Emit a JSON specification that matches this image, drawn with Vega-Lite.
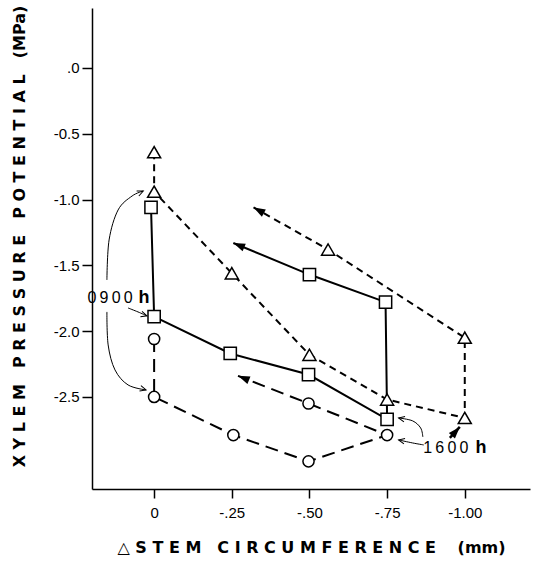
{
  "$schema": "https://vega.github.io/schema/vega-lite/v6.json",
  "width": 438,
  "height": 481,
  "autosize": "none",
  "padding": {"left": 92, "top": 8, "right": 11, "bottom": 72},
  "background": "white",
  "config": {
    "view": {"stroke": null},
    "axis": {
      "grid": false,
      "domainColor": "black",
      "domainWidth": 1.5,
      "tickColor": "black",
      "tickWidth": 1.5,
      "labelColor": "black",
      "titleColor": "black",
      "labelFont": "Liberation Sans",
      "labelFontSize": 15,
      "titleFont": "DejaVu Sans",
      "titleFontWeight": "bold",
      "titleFontSize": 16
    }
  },
  "datasets": {
    "obs": [
      {"series": "tri", "seq": 1, "x": 0, "y": -0.64, "kind": "obs"},
      {"series": "tri", "seq": 2, "x": 0, "y": -0.94, "kind": "obs"},
      {"series": "tri", "seq": 3, "x": -0.25, "y": -1.56, "kind": "obs"},
      {"series": "tri", "seq": 4, "x": -0.5, "y": -2.18, "kind": "obs"},
      {"series": "tri", "seq": 5, "x": -0.75, "y": -2.52, "kind": "obs"},
      {"series": "tri", "seq": 6, "x": -1.0, "y": -2.66, "kind": "obs"},
      {"series": "tri", "seq": 7, "x": -1.0, "y": -2.05, "kind": "obs"},
      {"series": "tri", "seq": 8, "x": -0.56, "y": -1.38, "kind": "obs"},
      {"series": "tri", "seq": 9, "x": -0.32, "y": -1.06, "kind": "tip"},
      {"series": "sq", "seq": 1, "x": 0.01, "y": -1.06, "kind": "obs"},
      {"series": "sq", "seq": 2, "x": 0, "y": -1.89, "kind": "obs"},
      {"series": "sq", "seq": 3, "x": -0.245, "y": -2.17, "kind": "obs"},
      {"series": "sq", "seq": 4, "x": -0.497, "y": -2.33, "kind": "obs"},
      {"series": "sq", "seq": 5, "x": -0.75, "y": -2.67, "kind": "obs"},
      {"series": "sq", "seq": 6, "x": -0.745, "y": -1.78, "kind": "obs"},
      {"series": "sq", "seq": 7, "x": -0.5, "y": -1.57, "kind": "obs"},
      {"series": "sq", "seq": 8, "x": -0.255, "y": -1.33, "kind": "tip"},
      {"series": "cir", "seq": 1, "x": 0, "y": -2.06, "kind": "obs"},
      {"series": "cir", "seq": 2, "x": 0, "y": -2.5, "kind": "obs"},
      {"series": "cir", "seq": 3, "x": -0.255, "y": -2.79, "kind": "obs"},
      {"series": "cir", "seq": 4, "x": -0.497, "y": -2.99, "kind": "obs"},
      {"series": "cir", "seq": 5, "x": -0.75, "y": -2.79, "kind": "obs"},
      {"series": "cir", "seq": 6, "x": -0.497, "y": -2.55, "kind": "obs"},
      {"series": "cir", "seq": 7, "x": -0.27, "y": -2.34, "kind": "tip"}
    ],
    "ann": [
      {"id": "a1", "seq": 1, "x": 0.152, "y": -1.611},
      {"id": "a1", "seq": 2, "x": 0.145, "y": -1.307},
      {"id": "a1", "seq": 3, "x": 0.116, "y": -1.079},
      {"id": "a1", "seq": 4, "x": 0.071, "y": -0.973},
      {"id": "a1", "seq": 5, "x": 0.035, "y": -0.935},
      {"id": "a2", "seq": 1, "x": 0.084, "y": -1.824},
      {"id": "a2", "seq": 2, "x": 0.052, "y": -1.854},
      {"id": "a2", "seq": 3, "x": 0.023, "y": -1.884},
      {"id": "a3", "seq": 1, "x": 0.152, "y": -1.854},
      {"id": "a3", "seq": 2, "x": 0.148, "y": -2.105},
      {"id": "a3", "seq": 3, "x": 0.126, "y": -2.295},
      {"id": "a3", "seq": 4, "x": 0.084, "y": -2.409},
      {"id": "a3", "seq": 5, "x": 0.026, "y": -2.447},
      {"id": "b1", "seq": 1, "x": -0.865, "y": -2.804},
      {"id": "b1", "seq": 2, "x": -0.858, "y": -2.736},
      {"id": "b1", "seq": 3, "x": -0.832, "y": -2.682},
      {"id": "b1", "seq": 4, "x": -0.787, "y": -2.66},
      {"id": "b2", "seq": 1, "x": -0.868, "y": -2.865},
      {"id": "b2", "seq": 2, "x": -0.832, "y": -2.85},
      {"id": "b2", "seq": 3, "x": -0.787, "y": -2.827},
      {"id": "b3", "seq": 1, "x": -0.952, "y": -2.812},
      {"id": "b3", "seq": 2, "x": -0.984, "y": -2.728}
    ],
    "heads": [
      {"id": "sq", "x": -0.255, "y": -1.33, "dir": 293},
      {"id": "tri", "x": -0.32, "y": -1.06, "dir": 299},
      {"id": "cir", "x": -0.27, "y": -2.34, "dir": 292},
      {"id": "b3", "x": -0.984, "y": -2.728, "dir": 42},
      {"id": "a1", "x": 0.035, "y": -0.935, "dir": 66},
      {"id": "a2", "x": 0.023, "y": -1.884, "dir": 107},
      {"id": "a3", "x": 0.026, "y": -2.447, "dir": 105},
      {"id": "b1", "x": -0.787, "y": -2.66, "dir": 282},
      {"id": "b2", "x": -0.787, "y": -2.827, "dir": 282}
    ],
    "labels": [
      {"part": "time", "x": 0.142, "y": -1.75, "text": "0\u20099\u20090\u20090"},
      {"part": "unit", "x": 0.033, "y": -1.75, "text": "h"},
      {"part": "time", "x": -0.939, "y": -2.89, "text": "1\u20096\u20090\u20090"},
      {"part": "unit", "x": -1.052, "y": -2.89, "text": "h"}
    ]
  },
  "encoding": {
    "x": {
      "field": "x", "type": "quantitative",
      "scale": {"domain": [-1.21, 0.2], "reverse": true, "nice": false, "zero": false},
      "axis": {
        "values": [0, -0.25, -0.5, -0.75, -1],
        "labelExpr": "datum.value == 0 ? '0' : datum.value == -1 ? '-1.00' : '-' + slice(format(-datum.value, '.2f'), 1)",
        "tickSize": 9,
        "labelPadding": 7,
        "title": "△ S T E M\u2003C I R C U M F E R E N C E\u2003\u00a0(mm)",
        "titlePadding": 19
      }
    },
    "y": {
      "field": "y", "type": "quantitative",
      "scale": {"domain": [-3.2, 0.456], "nice": false, "zero": false},
      "axis": {
        "values": [0, -0.5, -1, -1.5, -2, -2.5],
        "labelExpr": "datum.value == 0 ? '.0' : '-' + format(-datum.value, '.1f')",
        "tickSize": 10,
        "labelPadding": 3,
        "title": "X Y L E M\u2003P R E S S U R E\u2003P O T E N T I A L\u2003(MPa)",
        "titleX": -73,
        "titleY": 228,
        "titleAlign": "center",
        "titleBaseline": "middle"
      }
    }
  },
  "layer": [
    {
      "data": {"name": "ann"},
      "transform": [{"filter": "datum.id != 'b3'"}],
      "mark": {"type": "line", "interpolate": "cardinal", "color": "black", "strokeWidth": 1},
      "encoding": {"detail": {"field": "id"}, "order": {"field": "seq", "type": "quantitative"}}
    },
    {
      "data": {"name": "ann"},
      "transform": [{"filter": "datum.id == 'b3'"}],
      "mark": {"type": "line", "color": "black", "strokeWidth": 2.5},
      "encoding": {"order": {"field": "seq", "type": "quantitative"}}
    },
    {
      "data": {"name": "obs"},
      "transform": [{"filter": "datum.series == 'tri'"}],
      "mark": {"type": "line", "color": "black", "strokeWidth": 2, "strokeDash": [7, 5]},
      "encoding": {"order": {"field": "seq", "type": "quantitative"}}
    },
    {
      "data": {"name": "obs"},
      "transform": [{"filter": "datum.series == 'sq'"}],
      "mark": {"type": "line", "color": "black", "strokeWidth": 2},
      "encoding": {"order": {"field": "seq", "type": "quantitative"}}
    },
    {
      "data": {"name": "obs"},
      "transform": [{"filter": "datum.series == 'cir'"}],
      "mark": {"type": "line", "color": "black", "strokeWidth": 2, "strokeDash": [13, 7]},
      "encoding": {"order": {"field": "seq", "type": "quantitative"}}
    },
    {
      "data": {"name": "obs"},
      "transform": [{"filter": "datum.series == 'tri' && datum.kind == 'obs'"}],
      "mark": {"type": "point", "shape": "triangle-up", "size": 170, "filled": true, "fill": "white", "stroke": "black", "strokeWidth": 1.5, "opacity": 1}
    },
    {
      "data": {"name": "obs"},
      "transform": [{"filter": "datum.series == 'sq' && datum.kind == 'obs'"}],
      "mark": {"type": "point", "shape": "square", "size": 150, "filled": true, "fill": "white", "stroke": "black", "strokeWidth": 1.5, "opacity": 1}
    },
    {
      "data": {"name": "obs"},
      "transform": [{"filter": "datum.series == 'cir' && datum.kind == 'obs'"}],
      "mark": {"type": "point", "shape": "circle", "size": 125, "filled": true, "fill": "white", "stroke": "black", "strokeWidth": 1.5, "opacity": 1}
    },
    {
      "data": {"name": "heads"},
      "transform": [{"filter": "indexof(['sq','tri','cir','b3'], datum.id) >= 0"}],
      "mark": {"type": "point", "shape": "M0,0L0.45,1.3L-0.45,1.3Z", "size": 330, "filled": true, "color": "black", "opacity": 1},
      "encoding": {"angle": {"field": "dir", "type": "quantitative", "scale": null}}
    },
    {
      "data": {"name": "heads"},
      "transform": [{"filter": "indexof(['sq','tri','cir','b3'], datum.id) < 0"}],
      "mark": {"type": "point", "shape": "M-0.5,1.1L0,0L0.5,1.1", "size": 121, "filled": false, "color": "black", "strokeWidth": 1, "opacity": 1},
      "encoding": {"angle": {"field": "dir", "type": "quantitative", "scale": null}}
    },
    {
      "data": {"name": "labels"},
      "transform": [{"filter": "datum.part == 'time'"}],
      "mark": {"type": "text", "font": "Liberation Sans", "fontSize": 16, "color": "black", "align": "center", "baseline": "middle"},
      "encoding": {"text": {"field": "text"}}
    },
    {
      "data": {"name": "labels"},
      "transform": [{"filter": "datum.part == 'unit'"}],
      "mark": {"type": "text", "font": "Liberation Sans", "fontSize": 18, "fontWeight": "bold", "color": "black", "align": "center", "baseline": "middle"},
      "encoding": {"text": {"field": "text"}}
    }
  ]
}
